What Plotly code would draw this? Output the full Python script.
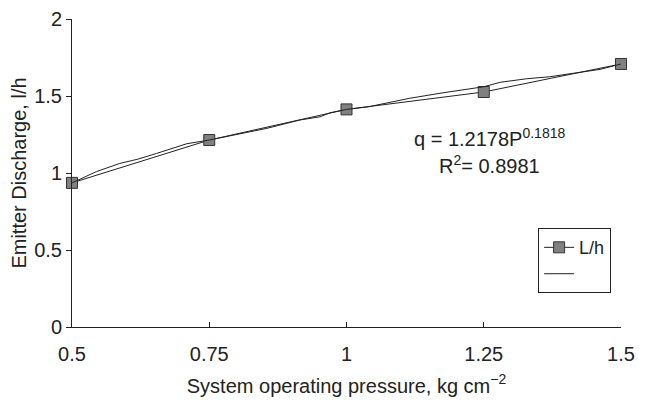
import plotly.graph_objects as go

pressure = [0.5, 0.75, 1.0, 1.25, 1.5]
discharge = [0.936, 1.214, 1.413, 1.526, 1.708]

trend_x = [0.5, 0.545, 0.587, 0.62, 0.654, 0.709, 0.75, 0.793, 0.855, 0.915, 0.952, 0.97,
           1.0, 1.04, 1.073, 1.115, 1.176, 1.219, 1.25, 1.28, 1.328, 1.37, 1.413, 1.462, 1.5]
trend_y = [0.936, 1.01, 1.062, 1.09, 1.127, 1.19, 1.214, 1.246, 1.29, 1.344, 1.365, 1.391,
           1.413, 1.43, 1.456, 1.485, 1.521, 1.543, 1.56, 1.589, 1.612, 1.625, 1.647, 1.673, 1.708]

x_ticks = [0.5, 0.75, 1, 1.25, 1.5]
x_labels = ["0.5", "0.75", "1", "1.25", "1.5"]
y_ticks = [0, 0.5, 1, 1.5, 2]
y_labels = ["0", "0.5", "1", "1.5", "2"]

font = "Liberation Sans, Arial, sans-serif"
fs = 20

fig = go.Figure()
fig.add_trace(go.Scatter(
    x=pressure, y=discharge, mode="lines+markers", name="L/h", cliponaxis=False,
    line=dict(color="#222222", width=1),
    marker=dict(symbol="square", size=11, color="#808080", line=dict(color="#333333", width=1)),
))
fig.add_trace(go.Scatter(
    x=trend_x, y=trend_y, mode="lines", name=" ",
    line=dict(color="#222222", width=1),
))

fig.update_layout(
    width=642, height=397,
    margin=dict(l=64, r=29, t=11, b=78),
    paper_bgcolor="white", plot_bgcolor="white",
    font=dict(family=font, size=fs, color="#222"),
    showlegend=True,
    legend=dict(x=0.849, y=0.321, xanchor="left", yanchor="top",
                bordercolor="#222", borderwidth=1, bgcolor="white",
                font=dict(size=18), itemwidth=30, tracegroupgap=0),
    xaxis=dict(range=[0.5, 1.5], tickvals=x_ticks, ticktext=x_labels, automargin=False,
               showgrid=False, zeroline=False, showline=True, linecolor="#222", linewidth=1,
               ticks="inside", ticklen=5, tickcolor="#222", ticklabelstandoff=9,
               title=dict(text="System operating pressure, kg cm<sup>−2</sup>", font=dict(size=fs), standoff=14)),
    yaxis=dict(range=[0, 2], tickvals=y_ticks, ticktext=y_labels, automargin=False,
               showgrid=False, zeroline=False, showline=True, linecolor="#222", linewidth=1,
               ticks="outside", ticklen=5, tickcolor="#222",
               title=dict(text="Emitter Discharge, l/h", font=dict(size=fs), standoff=4)),
)
fig.add_annotation(x=1.261, y=(326.7 - 137) / 153.85, xref="x", yref="y",
                   text="q = 1.2178P<sup>0.1818</sup>", showarrow=False,
                   font=dict(family=font, size=fs, color="#222"))
fig.add_annotation(x=1.26, y=(326.7 - 164) / 153.85, xref="x", yref="y",
                   text="R<sup>2</sup>= 0.8981", showarrow=False,
                   font=dict(family=font, size=fs, color="#222"))

fig.write_html("out.html")
